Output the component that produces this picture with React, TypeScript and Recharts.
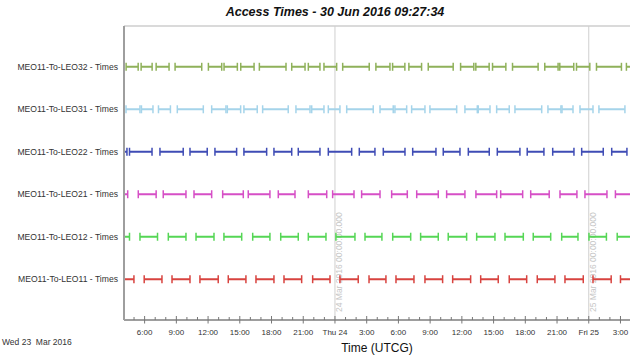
import React from 'react';
import { LineChart, Line, XAxis, YAxis, ReferenceLine } from 'recharts';

// time values are hours after Wed 23 Mar 2016 00:00 UTCG
const rowNames = [
  'MEO11-To-LEO11 - Times',
  'MEO11-To-LEO12 - Times',
  'MEO11-To-LEO21 - Times',
  'MEO11-To-LEO22 - Times',
  'MEO11-To-LEO31 - Times',
  'MEO11-To-LEO32 - Times',
];
const rowColors = ['#d8433f', '#55d655', '#d64fc6', '#3f4cb5', '#a5d4ea', '#8fb15a'];

const leo11Times = [
  [3.5, 4.99], [5.96, 7.64], [8.59, 10.29], [11.23, 12.96], [13.91, 15.58], [16.53, 18.23],
  [19.18, 20.85], [21.89, 23.53], [24.47, 26.2], [27.22, 28.82], [29.77, 31.47], [32.51, 34.18],
  [35.13, 36.83], [37.78, 39.44], [40.48, 42.13], [43.13, 44.8], [45.75, 47.48], [48.4, 50.12],
  [51.0, 52.7],
];
const leo12Times = [
  [3.4, 4.57], [5.56, 7.22], [8.24, 9.91], [10.86, 12.56], [13.5, 15.18], [16.22, 17.85],
  [18.87, 20.53], [21.48, 23.15], [24.09, 25.89], [26.84, 28.44], [29.46, 31.16], [32.1, 33.77],
  [34.71, 36.45], [37.4, 39.13], [40.08, 41.81], [42.75, 44.4], [45.44, 46.98], [48.02, 49.67],
  [50.69, 52.3],
];
const leo21Times = [
  [3.3, 4.4], [5.4, 7.09], [7.76, 9.91], [10.67, 12.34], [13.38, 15.33], [15.8, 17.85],
  [18.64, 20.22], [21.48, 23.22], [23.78, 25.8], [26.52, 28.26], [29.36, 30.84], [31.73, 33.77],
  [34.56, 36.29], [37.33, 39.29], [39.67, 41.75], [42.51, 44.26], [45.28, 46.88], [47.64, 49.72],
  [50.52, 52.3],
];
const leo22Times = [
  [3.2, 4.33], [4.57, 6.7], [7.45, 9.65], [10.29, 11.92], [12.65, 14.7], [15.39, 17.54],
  [18.23, 19.91], [20.53, 22.58], [23.37, 25.58], [26.3, 27.78], [28.57, 30.62], [31.35, 33.55],
  [34.24, 35.82], [36.61, 38.59], [39.35, 41.49], [42.18, 43.76], [44.59, 46.6], [47.33, 49.37],
  [50.17, 51.61],
];
const leo31Times = [
  [4.24, 5.56], [5.7, 6.79], [7.31, 8.44], [9.09, 11.55], [12.34, 13.69], [13.82, 15.08],
  [15.39, 16.65], [17.16, 19.58], [20.31, 21.64], [21.8, 22.96], [23.37, 24.47], [25.11, 27.62],
  [28.26, 29.51], [29.67, 30.78], [31.25, 32.51], [32.98, 35.51], [36.29, 37.46], [37.55, 38.66],
  [39.29, 40.48], [41.02, 43.55], [44.14, 45.37], [45.47, 46.51], [47.17, 48.4], [48.96, 51.42],
];
const leo32Times = [
  [4.25, 5.39], [5.67, 6.71], [7.09, 8.31], [8.88, 11.4], [12.03, 13.29], [13.51, 14.77],
  [15.09, 16.35], [16.85, 19.37], [19.91, 21.17], [21.48, 22.58], [22.96, 24.16], [24.73, 27.24],
  [27.87, 29.2], [29.45, 30.61], [30.99, 32.19], [32.82, 35.18], [35.88, 37.13], [37.32, 38.58],
  [38.9, 40.16], [40.79, 43.21], [43.84, 45.1], [45.26, 46.58], [46.84, 48.1], [48.73, 51.09],
  [51.56, 52.6],
];
const rowTimes = [leo11Times, leo12Times, leo21Times, leo22Times, leo31Times, leo32Times];

const majorTicks = [6, 9, 12, 15, 18, 21, 24, 27, 30, 33, 36, 39, 42, 45, 48, 51];
const tickLabels = [
  '6:00', '9:00', '12:00', '15:00', '18:00', '21:00', 'Thu 24', '3:00',
  '6:00', '9:00', '12:00', '15:00', '18:00', '21:00', 'Fri 25', '3:00',
];
const hourTicks = Array.from({ length: 47 }, (_, i) => i + 5);

const dayLines = [24, 48];
const dayLineLabels = ['24 Mar 2016 00:00:00.000', '25 Mar 2016 00:00:00.000'];

const FONT = '"Liberation Sans", Arial, sans-serif';

const toPoints = (intervals: number[][], row: number) => {
  const pts: { t: number; v: number | null }[] = [];
  intervals.forEach(([s, e], i) => {
    pts.push({ t: s, v: row }, { t: e, v: row });
    if (i < intervals.length - 1) pts.push({ t: (e + intervals[i + 1][0]) / 2, v: null });
  });
  return pts;
};

const XTick = ({ x, y, payload }: any) => {
  const idx = majorTicks.indexOf(payload.value);
  if (idx < 0) {
    return <line x1={x} x2={x} y1={y - 3} y2={y} stroke="#777" strokeWidth={1} />;
  }
  return (
    <g>
      <line x1={x} x2={x} y1={y - 4} y2={y + 3.5} stroke="#777" strokeWidth={1} />
      <text x={x} y={y + 15} textAnchor="middle" fontSize={8} fill="#333" fontFamily={FONT}>
        {tickLabels[idx]}
      </text>
    </g>
  );
};

const YTick = ({ x, y, payload }: any) => (
  <text x={x} y={y + 3} textAnchor="end" fontSize={8.6} fill="#333" fontFamily={FONT}>
    {rowNames[payload.value - 1]}
  </text>
);

const capDot = (color: string) => (props: any) => {
  const { cx, cy, index, payload } = props;
  if (cy == null || payload == null || payload.v == null) return <g key={index} />;
  return <line key={index} x1={cx} x2={cx} y1={cy - 4} y2={cy + 4} stroke={color} strokeWidth={1.5} />;
};

const DayLabel = (text: string) => (props: any) => {
  const { viewBox } = props;
  const tx = viewBox.x + 7.5;
  const ty = 312;
  return (
    <text x={tx} y={ty} transform={`rotate(-90 ${tx} ${ty})`} fontSize={8.5} fill="#c6c6c6" fontFamily={FONT}>
      {text}
    </text>
  );
};

export default function App() {
  return (
    <div style={{ position: 'absolute', left: 0, top: 0, width: 630, height: 356, overflow: 'hidden', background: '#fff', fontFamily: FONT }}>
      <div style={{ position: 'absolute', left: 0, width: 670, top: 5, textAlign: 'center', fontSize: 12.5, fontWeight: 'bold', fontStyle: 'italic', color: '#111' }}>
        Access Times - 30 Jun 2016 09:27:34
      </div>
      <div style={{ position: 'absolute', left: 2, top: 337, fontSize: 8.5, color: '#333', whiteSpace: 'pre' }}>
        Wed 23  Mar 2016
      </div>
      <LineChart width={630} height={356} margin={{ top: 26, right: 0, bottom: 0, left: 0 }}>
        <XAxis
          type="number"
          dataKey="t"
          domain={[4.05, 51.9]}
          allowDataOverflow
          ticks={hourTicks}
          interval={0}
          height={36}
          tickSize={0}
          tickMargin={0}
          tickLine={false}
          tick={<XTick />}
          axisLine={{ stroke: '#9e9e9e', strokeWidth: 2 }}
          label={{ value: 'Time (UTCG)', position: 'insideBottom', offset: 4, fontSize: 12, fill: '#111', fontFamily: FONT }}
        />
        <YAxis
          type="number"
          domain={[0.04, 6.96]}
          allowDataOverflow
          ticks={[1, 2, 3, 4, 5, 6]}
          interval={0}
          width={124}
          tickSize={0}
          tickMargin={6}
          tickLine={false}
          tick={<YTick />}
          axisLine={{ stroke: '#9e9e9e', strokeWidth: 2 }}
        />
        <ReferenceLine y={6.96} stroke="#b5b5b5" strokeWidth={1} />
        {dayLines.map((d, i) => (
          <ReferenceLine key={d} x={d} stroke="#cfcfcf" strokeWidth={1} label={DayLabel(dayLineLabels[i])} />
        ))}
        {rowTimes.map((times, i) => (
          <Line
            key={rowNames[i]}
            data={toPoints(times, i + 1)}
            dataKey="v"
            stroke={rowColors[i]}
            strokeWidth={2}
            connectNulls={false}
            dot={capDot(rowColors[i])}
            activeDot={false}
            isAnimationActive={false}
          />
        ))}
      </LineChart>
    </div>
  );
}
